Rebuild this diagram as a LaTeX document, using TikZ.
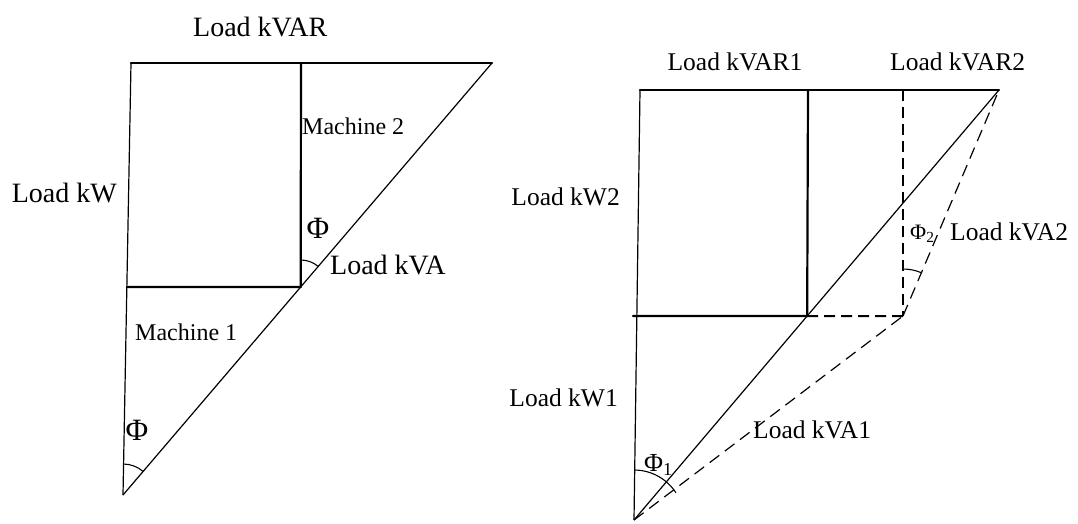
\documentclass[tikz,border=0pt]{standalone}
\usepackage{fontspec}
\setmainfont{Liberation Serif}
\usetikzlibrary{calc}
\begin{document}
\begin{tikzpicture}[x=1pt,y=1pt,
  thickln/.style={line width=2.2pt, line cap=round},
  thinln/.style={line width=1.2pt},
  dashln/.style={line width=2pt, dash pattern=on 11pt off 6pt},
  thindash/.style={line width=1.2pt, dash pattern=on 12pt off 7pt},
  arcln/.style={line width=1.1pt},
  biglbl/.style={inner sep=0pt, font=\fontsize{28}{30}\selectfont},
  midlbl/.style={inner sep=0pt, font=\fontsize{24}{26}\selectfont},
  rlbl/.style={inner sep=0pt, font=\fontsize{25.5}{27}\selectfont},
  philbl/.style={inner sep=0pt, font=\fontsize{31}{33}\selectfont},
  phisub/.style={inner sep=0pt, font=\fontsize{26}{28}\selectfont},
  phisubs/.style={inner sep=0pt, font=\fontsize{22}{24}\selectfont}]
\useasboundingbox (0,0) rectangle (1078,523);

% ---------- left diagram ----------
\coordinate (T1) at (131,460);
\coordinate (T2) at (492,460);
\coordinate (A)  at (123,28);
\coordinate (M)  at ($(A)!0.4815!(T2)$);
\coordinate (MT) at (301,460);
\coordinate (HL) at (127,236);

\draw[thickln] (T1) -- (T2);
\draw[thinln] (T1) -- (A);
\draw[thinln] (A) -- (T2);
\draw[thickln] (MT) -- (M);
\draw[thickln] (HL) -- (M);
\draw[arcln] ($(A)+(49.5:31)$) arc[start angle=49.5, end angle=89, radius=31];
\draw[arcln] ($(M)+(49.5:27)$) arc[start angle=49.5, end angle=90, radius=27];

\node[biglbl, anchor=west] (lkvar) at (193,496) {Load kVAR};
\node[biglbl, anchor=east] (lkw) at (117,330) {Load kW};
\node[biglbl, anchor=west] (lkva) at (330,258) {Load kVA};
\node[midlbl, anchor=west] (mach2) at (302,397) {Machine 2};
\node[midlbl, anchor=west] (mach1) at (135,191) {Machine 1};
\node[philbl] (phiu) at (318,295) {Φ};
\node[philbl] (phil) at (137,93) {Φ};

% ---------- right diagram ----------
\coordinate (R1) at (640,433);
\coordinate (R2) at (999,433);
\coordinate (B)  at (634,3);
\coordinate (P)  at ($(B)!0.4744!(R2)$);
\coordinate (PT) at (808,433);
\coordinate (HR) at (633,207);
\coordinate (Q)  at (903,207);
\coordinate (QT) at (903,433);

\draw[thickln] (R1) -- (R2);
\draw[thinln] (R1) -- (B);
\draw[thinln] (B) -- (R2);
\draw[thickln] (PT) -- (P);
\draw[thickln] (HR) -- (P);
\draw[dashln] (P) -- (Q);
\draw[dashln] (QT) -- (Q);
\draw[thindash] (B) -- (Q);
\draw[thindash] (Q) -- (R2);
\draw[arcln] ($(B)+(33:50)$) arc[start angle=33, end angle=89.2, radius=50];
\draw[arcln] ($(Q)+(67:47)$) arc[start angle=67, end angle=90, radius=47];

\node[rlbl, anchor=center] (lkvar1) at (735,461) {Load kVAR1};
\node[rlbl, anchor=west] (lkvar2) at (890,461) {Load kVAR2};
\node[rlbl, anchor=east] (lkw2) at (620,326) {Load kW2};
\node[rlbl, anchor=east] (lkw1) at (618,125) {Load kW1};
\node[rlbl, anchor=west] (lkva2) at (950,291) {Load kVA2};
\node[rlbl, anchor=west] (lkva1) at (753,93) {Load kVA1};
\node[phisub, anchor=west] (phi1) at (644,58) {Φ\textsubscript{1}};
\node[phisubs, anchor=west] (phi2) at (910,289) {Φ\textsubscript{2}};
\end{tikzpicture}
\end{document}
